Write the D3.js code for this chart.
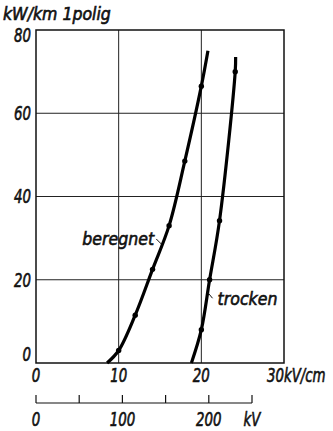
<!DOCTYPE html>
<html>
<head>
<meta charset="utf-8">
<script src="https://cdn.jsdelivr.net/npm/d3@7/dist/d3.min.js"></script>
<style>
  html, body { margin: 0; padding: 0; background: #fff; }
  svg { display: block; }
  text { font-family: "DejaVu Sans Condensed", "DejaVu Sans", sans-serif; font-style: oblique; fill: #111; stroke: #111; stroke-width: 0.6px; }
</style>
</head>
<body>
<svg id="chart" width="333" height="431"></svg>
<script>
// Field strength (kV/cm) and corona loss (kW/km, one conductor)
const fieldTicks = [0, 10, 20, 30];
const powerTicks = [0, 20, 40, 60, 80];
const voltageTicks = [0, 50, 100, 150, 200, 250];
const voltageLabelTicks = [0, 100, 200];
const fieldUnit = "kV/cm";
const voltageUnit = "kV";
const powerUnit = "kW/km 1polig";

// "beregnet" (wet conductor): fitted curve and measured points
const wetCurveField = [8.6, 10, 12, 14.1, 16.1, 18, 20, 20.8];
const wetCurvePower = [0, 3, 11.5, 22.5, 33, 48.5, 66.5, 75];
const wetPointField = [10, 12, 14.1, 16.1, 18, 20];
const wetPointPower = [3, 11.5, 22.5, 33, 48.5, 66.5];

// "trocken" (dry conductor): fitted curve and measured points
const dryCurveField = [18.8, 20, 21, 22.2, 24.1, 24.15];
const dryCurvePower = [0, 8, 20, 34.2, 70, 73.5];
const dryPointField = [20, 21, 22.2, 24.1];
const dryPointPower = [8, 20, 34.2, 70];

const svg = d3.select("#chart");
const plot = { left: 36, right: 284, top: 30, bottom: 363 };

const x = d3.scaleLinear().domain([0, 30]).range([plot.left, plot.right]);
const y = d3.scaleLinear().domain([0, 80]).range([plot.bottom, plot.top]);
const kv = d3.scaleLinear().domain([0, 250]).range([plot.left, 252]);

// narrow lettering: text placed in a horizontally compressed group
const fs = 19, squeeze = 0.78;
function label(px, py, str, anchor, size = fs, sx = squeeze) {
  svg.append("g")
    .attr("transform", `translate(${px},${py}) scale(${sx},1)`)
    .append("text")
    .attr("text-anchor", anchor)
    .attr("font-size", size)
    .text(str);
}

// grid
const grid = svg.append("g").attr("stroke", "#222").attr("stroke-width", 1);
grid.selectAll(".vg").data(fieldTicks.slice(1, -1)).join("line")
  .attr("x1", d => x(d)).attr("x2", d => x(d))
  .attr("y1", plot.top).attr("y2", plot.bottom);
grid.selectAll(".hg").data(powerTicks.slice(1, -1)).join("line")
  .attr("y1", d => y(d)).attr("y2", d => y(d))
  .attr("x1", plot.left).attr("x2", plot.right);

// frame
svg.append("rect")
  .attr("x", plot.left).attr("y", plot.top)
  .attr("width", plot.right - plot.left).attr("height", plot.bottom - plot.top)
  .attr("fill", "none").attr("stroke", "#111").attr("stroke-width", 1.5);

// y tick labels (end ones kept inside the frame height)
powerTicks.forEach(d => {
  const half = fs * 0.36;
  const cy = Math.min(Math.max(y(d) + half, plot.top + 2 * half - 2), plot.bottom - 2);
  label(plot.left - 5, cy, d, "end");
});

// x tick labels, last one set left of its gridline with the unit after it
fieldTicks.forEach((d, i) => {
  const last = i === fieldTicks.length - 1;
  label(x(d), plot.bottom + 19, d, last ? "end" : "middle");
});
label(x(30), plot.bottom + 19, fieldUnit, "start");

// title
label(3, 20, powerUnit, "start", 17.5, 1);

// voltage scale
const vy = 403;
const vax = svg.append("g").attr("stroke", "#111").attr("stroke-width", 1.2);
vax.append("line").attr("x1", kv(0)).attr("x2", kv(250)).attr("y1", vy).attr("y2", vy);
vax.selectAll(".vt").data(voltageTicks).join("line")
  .attr("x1", d => kv(d)).attr("x2", d => kv(d))
  .attr("y1", vy).attr("y2", vy - 8);
voltageLabelTicks.forEach(d => label(kv(d), 426, d, "middle"));
label(kv(250), 426, voltageUnit, "middle");

// curves
const line = d3.line().x(d => x(d[0])).y(d => y(d[1])).curve(d3.curveCatmullRom.alpha(0.5));
function drawSeries(cf, cp, pf, pp) {
  svg.append("path")
    .datum(cf.map((f, i) => [f, cp[i]]))
    .attr("d", line).attr("fill", "none")
    .attr("stroke", "#000").attr("stroke-width", 3.2).attr("stroke-linecap", "butt");
  svg.append("g").selectAll("circle").data(pf.map((f, i) => [f, pp[i]])).join("circle")
    .attr("cx", d => x(d[0])).attr("cy", d => y(d[1])).attr("r", 2.7).attr("fill", "#000");
}
drawSeries(wetCurveField, wetCurvePower, wetPointField, wetPointPower);
drawSeries(dryCurveField, dryCurvePower, dryPointField, dryPointPower);

// curve labels with short leaders
function curveLabel(text, f, p, leader, anchor, dx, dy) {
  const px = x(f), py = y(p);
  svg.append("line")
    .attr("x1", px).attr("y1", py)
    .attr("x2", px + leader[0]).attr("y2", py + leader[1])
    .attr("stroke", "#111").attr("stroke-width", 1);
  label(px + dx, py + dy, text, anchor, 18.5, 0.95);
}
curveLabel("beregnet", 15.15, 28.6, [-5, -5], "end", -7, 1);
curveLabel("trocken", 20.75, 17, [5, 6], "start", 10, 13);
</script>
</body>
</html>
